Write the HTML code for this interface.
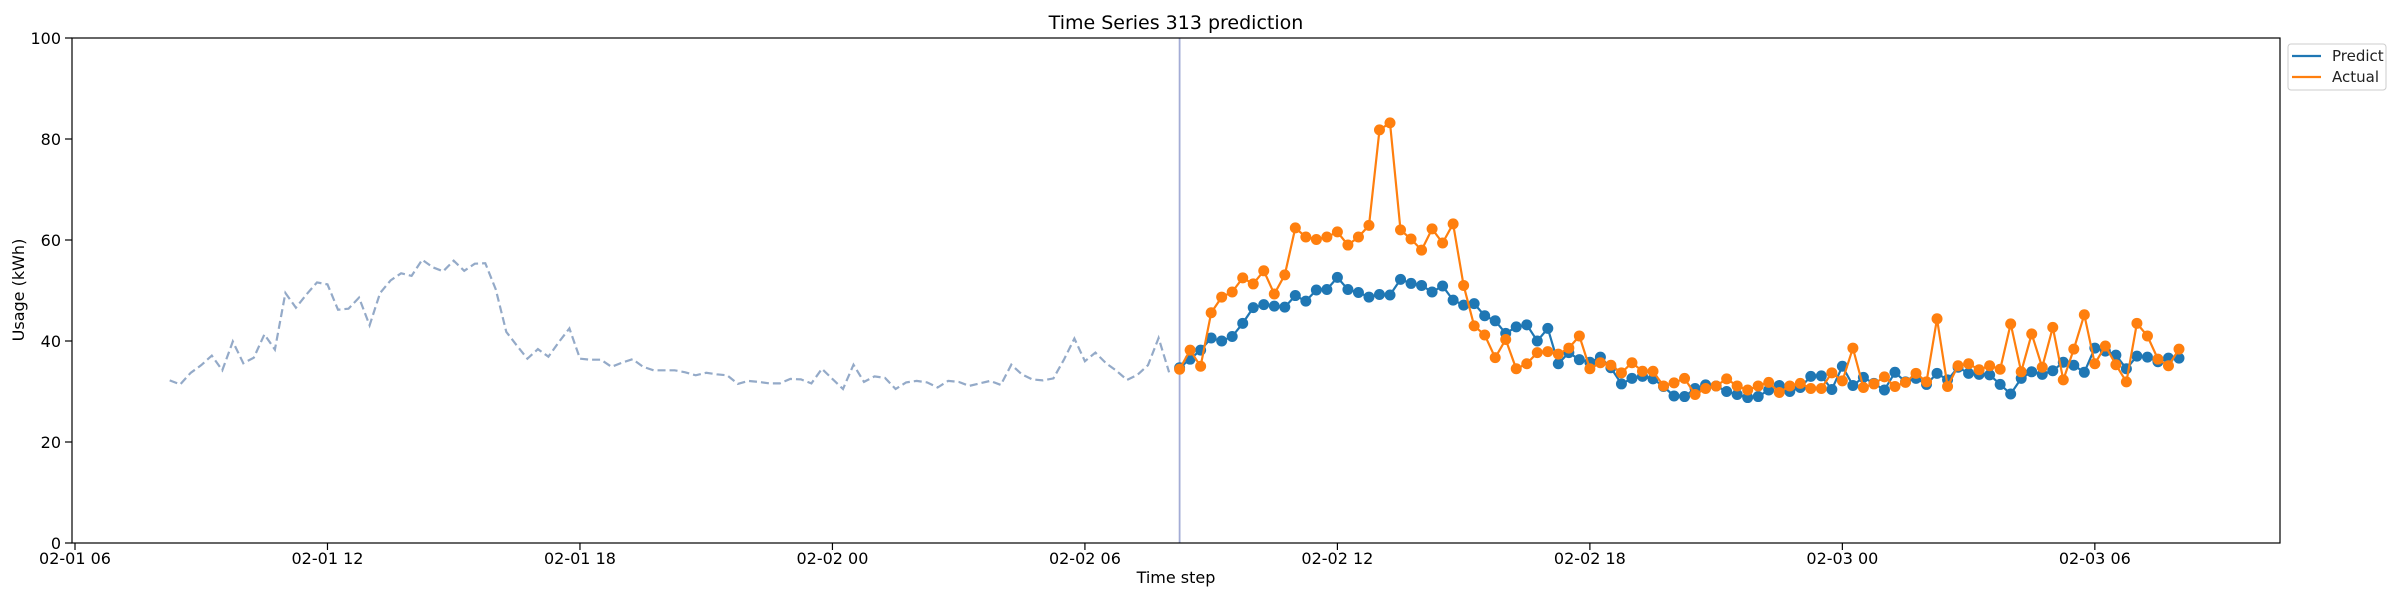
<!DOCTYPE html>
<html><head><meta charset="utf-8"><style>
html,body{margin:0;padding:0;background:#fff;}
svg{display:block;font-family:"DejaVu Sans","Liberation Sans",sans-serif;}
</style></head><body>
<svg id="chart" width="2400" height="600" viewBox="0 0 2400 600" xmlns="http://www.w3.org/2000/svg">
<rect x="0" y="0" width="2400" height="600" fill="#fff"/>
<text x="1176" y="29" font-size="19" text-anchor="middle" fill="#000">Time Series 313 prediction</text>
<text x="1176" y="583" font-size="16" text-anchor="middle" fill="#000">Time step</text>
<text transform="translate(24,290) rotate(-90)" font-size="16" text-anchor="middle" fill="#000">Usage (kWh)</text>
<g id="plot"></g>
<rect x="72" y="38" width="2208" height="505" fill="none" stroke="#000" stroke-width="1.2"/>
<g>
<rect x="2288" y="44" width="98" height="46" rx="3" fill="#fff" stroke="#ccc" stroke-width="1"/>
<line x1="2292" y1="56" x2="2321" y2="56" stroke="#1f77b4" stroke-width="2.2"/>
<text x="2332" y="61" font-size="15" fill="#222">Predict</text>
<line x1="2292" y1="77" x2="2321" y2="77" stroke="#ff7f0e" stroke-width="2.2"/>
<text x="2332" y="82" font-size="15" fill="#222">Actual</text>
</g>
</svg>
<script>
const history = [32.2,31.4,33.7,35.2,37.1,34.2,39.9,35.6,36.7,41.3,38.3,49.5,46.6,49.2,51.6,51.2,46.2,46.4,48.6,43.1,49.5,52.0,53.4,52.9,56.1,54.6,53.8,55.9,53.9,55.3,55.4,50.2,41.8,39.1,36.5,38.4,36.9,39.8,42.5,36.5,36.3,36.3,34.9,35.7,36.4,34.9,34.2,34.2,34.2,33.8,33.2,33.7,33.4,33.2,31.5,32.1,31.9,31.6,31.6,32.5,32.4,31.6,34.5,32.5,30.5,35.3,31.9,33.0,32.7,30.5,31.8,32.1,31.8,30.8,32.1,31.9,31.1,31.6,32.1,31.3,35.3,33.4,32.4,32.2,32.6,36.3,40.5,36.0,37.7,35.6,34.1,32.3,33.3,35.2,40.6,33.8];
const predict = [34.7,36.4,38.2,40.6,40.0,40.9,43.5,46.6,47.2,46.9,46.7,49.0,47.9,50.1,50.2,52.6,50.2,49.6,48.7,49.2,49.1,52.2,51.4,51.0,49.7,50.9,48.1,47.1,47.4,45.0,44.0,41.5,42.8,43.2,40.0,42.5,35.5,37.7,36.3,35.8,36.8,34.7,31.5,32.6,33.0,32.5,31.0,29.1,29.0,30.6,31.3,31.1,30.0,29.4,28.8,29.0,30.3,31.2,30.0,30.8,33.0,33.1,30.4,35.0,31.2,32.8,31.6,30.3,33.8,31.9,32.6,31.4,33.6,32.3,34.8,33.6,33.4,33.3,31.4,29.5,32.6,33.9,33.4,34.1,35.8,35.2,33.8,38.6,38.0,37.2,34.5,37.0,36.8,35.9,36.6,36.6];
const actual = [34.4,38.2,35.0,45.6,48.7,49.7,52.5,51.3,53.9,49.3,53.1,62.4,60.6,60.1,60.6,61.6,59.0,60.6,62.9,81.8,83.2,62.0,60.2,58.0,62.2,59.4,63.2,51.0,43.0,41.2,36.7,40.3,34.5,35.5,37.7,37.9,37.4,38.6,41.0,34.5,35.7,35.2,33.7,35.7,34.0,34.0,31.1,31.7,32.6,29.4,30.6,31.1,32.5,31.1,30.3,31.1,31.8,29.8,31.1,31.6,30.6,30.6,33.7,32.1,38.6,30.8,31.5,32.9,31.0,31.8,33.6,31.9,44.4,31.0,35.1,35.5,34.3,35.1,34.4,43.4,33.9,41.4,34.8,42.7,32.3,38.4,45.2,35.5,39.0,35.3,31.9,43.5,41.0,36.4,35.1,38.4];
const yTicks = [0,20,40,60,80,100];
const xTickLabels = ["02-01 06","02-01 12","02-01 18","02-02 00","02-02 06","02-02 12","02-02 18","02-03 00","02-03 06"];
const histStartHour = 2.25;
const predStartHour = 26.25;
const stepHours = 0.25;

const NS = "http://www.w3.org/2000/svg";
const plot = document.getElementById('plot');
const svg = document.getElementById('chart');
function xScale(h){ return 75 + h*42.08; }
function yScale(v){ return 543 - v*5.05; }
function mk(tag, attrs, parent){
  const e = document.createElementNS(NS, tag);
  for (const k in attrs) e.setAttribute(k, attrs[k]);
  (parent||plot).appendChild(e);
  return e;
}
yTicks.forEach(function(v){
  const t = mk('line', {x1:65, x2:72, y1:yScale(v), y2:yScale(v), stroke:'#000', 'stroke-width':1.2}, svg);
  
  
  const l = mk('text', {x:61, y:yScale(v)+6, 'font-size':16, 'text-anchor':'end', fill:'#000'}, svg);
  l.textContent = v;
  
  
});
xTickLabels.forEach(function(s, i){
  const x = xScale(i*6);
  const t = mk('line', {x1:x, x2:x, y1:543, y2:550, stroke:'#000', 'stroke-width':1.2}, svg);
  
  
  const l = mk('text', {x:x, y:564, 'font-size':16, 'text-anchor':'middle', fill:'#000'}, svg);
  l.textContent = s;
  
  
});
const hp = history.map(function(v,i){ return xScale(histStartHour + i*stepHours).toFixed(1)+','+yScale(v).toFixed(1); }).join(' ');
const hl = mk('polyline', {points:hp, fill:'none', stroke:'#94aac8', 'stroke-width':2.2, 'stroke-dasharray':'8,4'});


const vx = xScale(predStartHour);
const vl = mk('line', {x1:vx, x2:vx, y1:38, y2:543, stroke:'#a3acd6', 'stroke-width':1.8});


function series(data, color, name){
  const pts = data.map(function(v,i){ return xScale(predStartHour + i*stepHours).toFixed(1)+','+yScale(v).toFixed(1); }).join(' ');
  const pl = mk('polyline', {points:pts, fill:'none', stroke:color, 'stroke-width':2.2});
  
  
  data.forEach(function(v,i){
    const c = mk('circle', {cx:xScale(predStartHour + i*stepHours), cy:yScale(v), r:5.5, fill:color});
    
    
  });
}
series(predict, '#1f77b4', 'predict');
series(actual, '#ff7f0e', 'actual');
</script>
</body></html>
